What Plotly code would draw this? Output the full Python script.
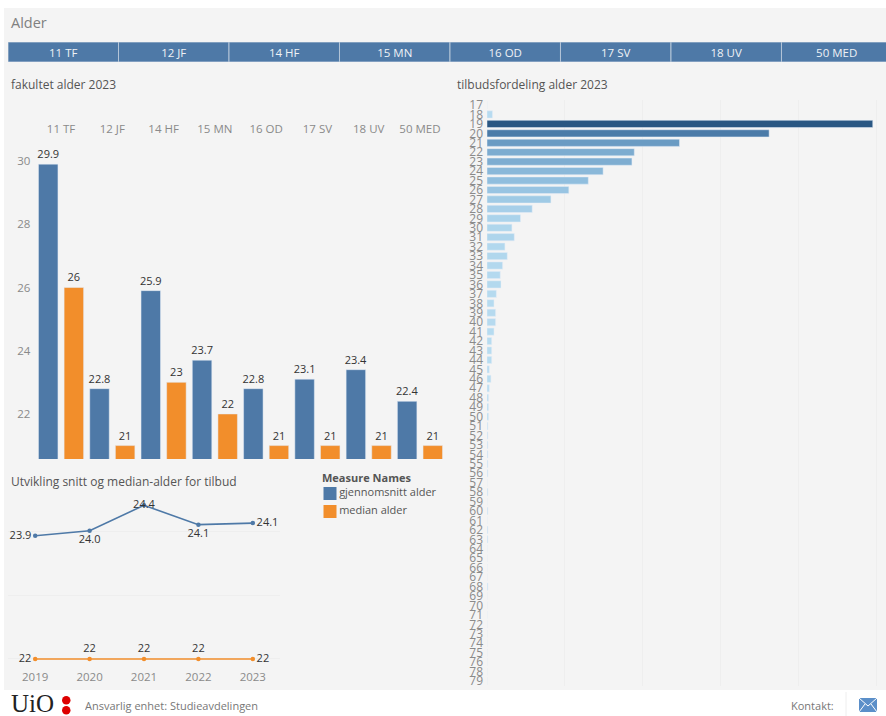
import plotly.graph_objects as go

W, H = 886, 716

# ---- data ----
faculties = ["11 TF", "12 JF", "14 HF", "15 MN", "16 OD", "17 SV", "18 UV", "50 MED"]
mean_age = [29.9, 22.8, 25.9, 23.7, 22.8, 23.1, 23.4, 22.4]
median_age = [26, 21, 23, 22, 21, 21, 21, 21]

years = [2019, 2020, 2021, 2022, 2023]
trend_mean = [23.94, 24.02, 24.42, 24.115, 24.14]
trend_mean_labels = ["23.9", "24.0", "24.4", "24.1", "24.1"]
trend_median = [22, 22, 22, 22, 22]
trend_median_labels = ["22", "22", "22", "22", "22"]

ages = [str(a) for a in list(range(17, 77)) + [78, 79]]
age_counts = [0, 7, 495, 362, 247, 189, 186, 149, 130, 105, 82, 58, 43, 32, 35, 23, 26, 20,
              17, 18, 12, 9, 11, 11, 9, 6, 6, 6, 3, 5, 3, 2, 2, 2, 1, 1, 1, 1, 1, 1, 0, 1,
              0, 1, 0, 1, 1, 0, 0, 0, 0, 1, 0, 0, 0, 0, 0, 0, 0, 0, 0, 0]

BLUE = "#4e79a7"
ORANGE = "#f28e2b"
PANEL = "#f4f4f4"


def px(x):
    return x / W


def py(y):
    return 1 - y / H


def dom_x(a, b):
    return [px(a), px(b)]


def dom_y(top, bottom):
    return [py(bottom), py(top)]


fig = go.Figure()

# navigation strip
fig.add_trace(go.Bar(
    x=faculties, y=[1] * len(faculties), width=[1] * len(faculties), xaxis="x3", yaxis="y3",
    marker=dict(color=BLUE, line=dict(color="#b4c5d8", width=1)),
    text=faculties, textposition="inside", insidetextanchor="middle",
    textangle=0, constraintext="none",
    textfont=dict(color="#eef2f6", size=11.5), showlegend=False, hoverinfo="skip",
))

# grouped bars
fig.add_trace(go.Bar(
    x=faculties, y=mean_age, name="gjennomsnitt alder", marker_color=BLUE,
    text=[f"{v:g}" for v in mean_age], textposition="outside", cliponaxis=False, constraintext="none",
    textfont=dict(color="#333333", size=11), xaxis="x", yaxis="y", showlegend=False,
))
fig.add_trace(go.Bar(
    x=faculties, y=median_age, name="median alder", marker_color=ORANGE,
    text=[f"{v:g}" for v in median_age], textposition="outside", cliponaxis=False, constraintext="none",
    textfont=dict(color="#333333", size=11), xaxis="x", yaxis="y", showlegend=False,
))

# trend lines
fig.add_trace(go.Scatter(
    x=years, y=trend_mean, mode="lines+markers+text", xaxis="x2", yaxis="y2",
    line=dict(color=BLUE, width=1.6), marker=dict(color=BLUE, size=4.5),
    text=trend_mean_labels, cliponaxis=False,
    textposition=["middle left", "bottom center", "middle center", "bottom center", "middle right"],
    textfont=dict(color="#333333", size=11), showlegend=False,
))
fig.add_trace(go.Scatter(
    x=years, y=trend_median, mode="lines+markers+text", xaxis="x2", yaxis="y2",
    line=dict(color=ORANGE, width=1.6), marker=dict(color=ORANGE, size=4.5),
    text=trend_median_labels, cliponaxis=False,
    textposition=["middle left", "top center", "top center", "top center", "middle right"],
    textfont=dict(color="#333333", size=11), showlegend=False,
))

# age distribution
fig.add_trace(go.Bar(
    x=age_counts, y=ages, orientation="h", xaxis="x4", yaxis="y4", showlegend=False,
    marker=dict(
        color=age_counts, cmin=0, cmax=max(age_counts), showscale=False,
        colorscale=[[0, "#b9ddf1"], [0.25, "#92c0df"], [0.5, "#6a9bc3"], [0.75, "#4878a6"], [1, "#2a5783"]],
    ),
))

# legend entries
fig.add_trace(go.Scatter(
    x=[0, 0], y=[1, 0], mode="markers+text", xaxis="x5", yaxis="y5", showlegend=False,
    marker=dict(symbol="square", size=13, color=[BLUE, ORANGE]),
    text=["gjennomsnitt alder", "median alder"], textposition="middle right",
    textfont=dict(color="#555555", size=11), cliponaxis=False, hoverinfo="skip",
))

grid = "#eeeeee"
tick_font = dict(color="#8a8a8a", size=11.5)

shapes = [
    dict(type="rect", xref="paper", yref="paper", x0=px(4), x1=px(886), y0=py(690), y1=py(8),
         fillcolor=PANEL, line_width=0, layer="below"),
    dict(type="circle", xref="paper", yref="paper", x0=px(62), x1=px(70.5), y0=py(704.5), y1=py(696),
         fillcolor="#dd0000", line_width=0),
    dict(type="circle", xref="paper", yref="paper", x0=px(62), x1=px(70.5), y0=py(714.5), y1=py(706),
         fillcolor="#dd0000", line_width=0),
    dict(type="rect", xref="paper", yref="paper", x0=px(859), x1=px(877), y0=py(712), y1=py(698),
         fillcolor="#5b8fc9", line_width=0),
    dict(type="path", xref="paper", yref="paper",
         path=f"M {px(859)} {py(698)} L {px(868)} {py(706)} L {px(877)} {py(698)} M {px(859)} {py(712)} L {px(865)} {py(704)} M {px(877)} {py(712)} L {px(871)} {py(704)}",
         line=dict(color="white", width=1)),
    dict(type="line", xref="paper", yref="paper", x0=px(846), x1=px(846), y0=py(716), y1=py(692),
         line=dict(color="#eeeeee", width=1)),
]


def note(x, y, text, size=12, color="#555555", font="Open Sans", anchor="left", height=None):
    d = dict(xref="paper", yref="paper", x=px(x), y=py(y), text=text, showarrow=False,
             xanchor=anchor, yanchor="middle", font=dict(size=size, color=color, family=font),
             borderpad=0, xshift=-1)
    if height:
        d["height"] = height
    return d


annotations = [
    note(11, 23, "Alder", size=14.5, color="#808080"),
    note(11, 84, "fakultet alder 2023"),
    note(457, 84, "tilbudsfordeling alder 2023"),
    note(11, 481, "Utvikling snitt og median-alder for tilbud"),
    note(322, 477, "<b>Measure Names</b>", size=11),
    note(11, 703, "UiO", size=25, color="#222222", font="Liberation Serif", height=22),
    note(85, 705, "Ansvarlig enhet: Studieavdelingen", size=11, color="#777777", height=16),
    note(791, 705, "Kontakt:", size=11, color="#777777", height=16),
]

fig.update_layout(
    width=W, height=H, autosize=False, margin=dict(l=0, r=0, t=0, b=0, autoexpand=False),
    paper_bgcolor="white", plot_bgcolor=PANEL,
    font=dict(family="Open Sans", color="#555555", size=11),
    barmode="group", bargap=0, bargroupgap=0.24,
    shapes=shapes, annotations=annotations, showlegend=False,
    xaxis=dict(domain=dom_x(35.4, 445.6), side="top", anchor="y", tickfont=tick_font, ticks="",
               showgrid=False, zeroline=False, showline=False, type="category"),
    yaxis=dict(domain=dom_y(136, 459), range=[20.576, 30.79], tickvals=[22, 24, 26, 28, 30],
               tickfont=tick_font, showgrid=False, zeroline=False, ticks="", ticklabelstandoff=4),
    xaxis2=dict(domain=dom_x(8, 280), range=[2018.5, 2023.5], anchor="y2", tickvals=years,
                tickfont=tick_font, showgrid=False, zeroline=False, ticks=""),
    yaxis2=dict(domain=dom_y(490, 668), range=[21.858, 24.661], anchor="x2", tickvals=[22, 23, 24],
                showticklabels=False, gridcolor=grid, zeroline=False, ticks=""),
    xaxis3=dict(domain=dom_x(8, 886), anchor="y3", type="category", visible=False,
                range=[-0.5, 7.446]),
    yaxis3=dict(domain=dom_y(42, 62), anchor="x3", range=[0, 1], visible=False),
    xaxis4=dict(domain=dom_x(487, 886), anchor="y4", range=[0, 512], tickvals=[0, 100, 200, 300, 400, 500],
                showticklabels=False, gridcolor=grid, zeroline=False, ticks=""),
    yaxis4=dict(domain=dom_y(100.3, 685.7), anchor="x4", type="category", categoryorder="array",
                categoryarray=ages, range=[len(ages) - 0.5, -0.5], tickmode="array",
                tickvals=ages, ticktext=ages, ticklabelstandoff=3,
                tickfont=dict(color="#8a8a8a", size=12), showgrid=False, zeroline=False, ticks=""),
    xaxis5=dict(domain=dom_x(324.5, 440), anchor="y5", range=[-0.05, 1], visible=False),
    yaxis5=dict(domain=dom_y(484.5, 520.5), anchor="x5", range=[-0.5, 1.5], visible=False),
)

fig.write_html("out.html", config=dict(displayModeBar=False),
               post_script="document.body.style.margin='0';document.body.style.overflow='hidden';")
